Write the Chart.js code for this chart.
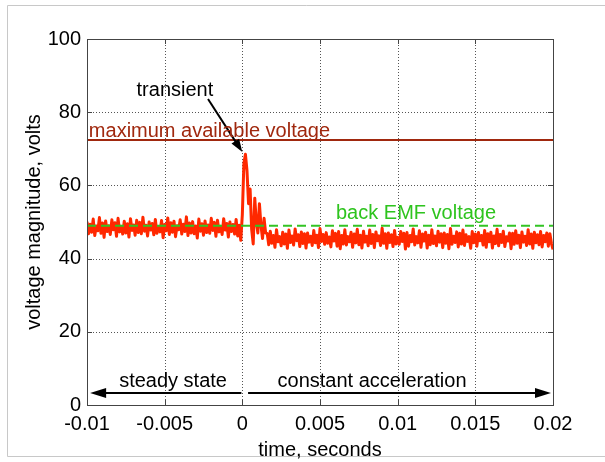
<!DOCTYPE html>
<html>
<head>
<meta charset="utf-8">
<script src="https://cdn.jsdelivr.net/npm/chart.js@4"></script>
<style>
  html, body { margin: 0; padding: 0; background: #fff; }
  #wrap { width: 605px; height: 462px; }
</style>
</head>
<body>
<div id="wrap"><canvas id="voltChart" width="605" height="462"></canvas></div>
<script>
// sampled motor voltage, one value every 0.1 ms starting at -0.01 s
const startTime = -0.01;
const sampleStep = 0.0001;
const voltage = [
  50.1, 46.8, 49.4, 47.2, 50.8, 46.3, 48.9, 47.6, 51.2, 46.9,
  49.7, 45.8, 50.3, 47.4, 49.0, 46.6, 50.6, 47.9, 49.8, 46.1,
  51.0, 47.3, 48.8, 46.7, 50.2, 47.0, 49.5, 45.9, 50.9, 47.7,
  49.2, 46.4, 50.5, 47.1, 49.9, 46.8, 51.3, 47.5, 49.1, 46.2,
  50.0, 47.8, 49.6, 46.5, 50.7, 46.9, 48.7, 47.3, 50.4, 45.7,
  49.3, 47.6, 51.1, 46.6, 49.8, 47.2, 50.2, 46.0, 49.0, 47.9,
  50.6, 46.7, 49.4, 47.4, 51.4, 46.3, 49.7, 47.0, 50.1, 46.8,
  48.9, 45.6, 50.8, 47.5, 49.5, 46.4, 50.3, 47.1, 49.2, 46.9,
  51.0, 47.7, 49.9, 46.1, 50.5, 47.3, 48.8, 46.6, 50.9, 47.8,
  49.6, 45.9, 50.0, 47.4, 49.3, 46.7, 50.7, 46.2, 49.1,
  // transient around t = 0
  45.0, 52.0, 66.0, 68.5, 64.0, 55.0, 59.0, 48.0, 44.0, 56.5,
  50.0, 47.0, 55.0, 49.0, 45.5, 51.0, 47.0,
  // constant acceleration
  46.9, 43.8, 47.5, 44.2, 46.3, 43.1, 47.9, 44.6, 46.0, 43.5,
  47.2, 44.0, 46.7, 42.8, 47.8, 44.4, 46.2, 43.7, 48.1, 44.9,
  46.5, 43.3, 47.3, 44.1, 46.8, 42.9, 47.0, 44.5, 46.1, 43.6,
  47.7, 44.3, 46.4, 43.0, 48.2, 44.7, 46.6, 43.9, 47.1, 44.2,
  45.9, 43.2, 47.6, 44.8, 46.9, 43.4, 47.4, 42.7, 46.3, 44.0,
  47.9, 43.7, 46.0, 44.6, 47.2, 43.1, 46.7, 44.3, 48.0, 43.8,
  46.4, 42.9, 47.5, 44.5, 46.1, 43.5, 47.8, 44.1, 46.6, 43.0,
  47.3, 44.9, 46.2, 43.6, 48.3, 44.2, 46.8, 42.8, 47.0, 44.4,
  46.5, 43.3, 47.7, 44.0, 45.8, 43.9, 47.4, 44.7, 46.9, 42.6,
  47.1, 43.4, 46.3, 44.6, 48.1, 43.7, 46.0, 44.3, 47.6, 43.1,
  46.7, 44.8, 47.2, 42.9, 46.4, 43.8, 47.9, 44.1, 46.2, 43.5,
  47.5, 44.5, 46.8, 43.0, 47.0, 44.2, 46.6, 42.7, 48.2, 43.9,
  46.1, 44.4, 47.3, 43.2, 46.9, 44.0, 47.8, 43.6, 46.5, 44.7,
  46.0, 42.8, 47.4, 44.3, 46.7, 43.4, 47.1, 44.9, 46.3, 43.7,
  47.7, 43.1, 46.8, 44.6, 47.2, 42.9, 46.2, 44.1, 48.0, 43.5,
  46.6, 44.4, 47.5, 43.3, 46.0, 44.8, 47.0, 42.7, 46.9, 43.9,
  47.6, 44.2, 46.4, 43.0, 47.3, 44.5, 46.1, 43.6, 47.9, 44.0,
  46.7, 42.8, 47.2, 44.3, 46.5, 43.8, 47.4, 43.2, 46.3, 44.6,
  47.0, 43.4, 46.8, 44.1, 42.5
];

const maxAvailableVoltage = 72.4;
const backEmfVoltage = 49;

const xTickValues = [-0.01, -0.005, 0, 0.005, 0.01, 0.015, 0.02];
const xTickLabels = ['-0.01', '-0.005', '0', '0.005', '0.01', '0.015', '0.02'];
const yTickValues = [0, 20, 40, 60, 80, 100];
const yTickLabels = ['0', '20', '40', '60', '80', '100'];

const xMin = -0.01, xMax = 0.02;
const FONT = "'Liberation Sans', Arial, sans-serif";

const voltagePoints = voltage.map((v, i) => ({ x: startTime + i * sampleStep, y: v }));

function flat(y) {
  return [{ x: xMin, y: y }, { x: xMax, y: y }];
}

function arrow(ctx, x1, y1, x2, y2, len, half) {
  const a = Math.atan2(y2 - y1, x2 - x1);
  ctx.beginPath();
  ctx.moveTo(x1, y1);
  ctx.lineTo(x2 - Math.cos(a) * len * 0.8, y2 - Math.sin(a) * len * 0.8);
  ctx.stroke();
  ctx.beginPath();
  ctx.moveTo(x2, y2);
  ctx.lineTo(x2 - Math.cos(a) * len - Math.sin(a) * half, y2 - Math.sin(a) * len + Math.cos(a) * half);
  ctx.lineTo(x2 - Math.cos(a) * len + Math.sin(a) * half, y2 - Math.sin(a) * len - Math.cos(a) * half);
  ctx.closePath();
  ctx.fill();
}

// white page, light grey figure frame and dotted grid behind the data
const framePlugin = {
  id: 'frame',
  beforeDraw(chart) {
    const ctx = chart.ctx;
    ctx.save();
    ctx.fillStyle = '#fff';
    ctx.fillRect(0, 0, chart.width, chart.height);
    ctx.strokeStyle = '#c8c8c8';
    ctx.lineWidth = 1;
    ctx.beginPath();
    ctx.moveTo(605, 5.5);
    ctx.lineTo(7.5, 5.5);
    ctx.lineTo(7.5, 456.5);
    ctx.lineTo(605, 456.5);
    ctx.stroke();
    ctx.restore();
  },
  beforeDatasetsDraw(chart) {
    const ctx = chart.ctx;
    const xs = chart.scales.x, ys = chart.scales.y;
    const a = chart.chartArea;
    ctx.save();
    ctx.strokeStyle = '#555';
    ctx.lineWidth = 1;
    ctx.setLineDash([1, 2]);
    ctx.beginPath();
    xTickValues.slice(1, -1).forEach(v => {
      const x = Math.round(xs.getPixelForValue(v)) + 0.5;
      ctx.moveTo(x, a.top); ctx.lineTo(x, a.bottom);
    });
    yTickValues.slice(1, -1).forEach(v => {
      const y = Math.round(ys.getPixelForValue(v)) + 0.5;
      ctx.moveTo(a.left, y); ctx.lineTo(a.right, y);
    });
    ctx.stroke();
    ctx.restore();
  }
};

// axes box, inward tick marks and the text annotations
const notesPlugin = {
  id: 'notes',
  afterDatasetsDraw(chart) {
    const ctx = chart.ctx;
    const xs = chart.scales.x, ys = chart.scales.y;
    const a = chart.chartArea;
    const px = v => xs.getPixelForValue(v);
    const py = v => ys.getPixelForValue(v);
    ctx.save();

    ctx.strokeStyle = '#444';
    ctx.lineWidth = 1;
    ctx.strokeRect(Math.round(a.left) + 0.5, Math.round(a.top) + 0.5,
      Math.round(a.right - a.left), Math.round(a.bottom - a.top));
    ctx.beginPath();
    xTickValues.forEach(v => {
      const x = Math.round(px(v)) + 0.5;
      ctx.moveTo(x, a.bottom); ctx.lineTo(x, a.bottom - 5);
      ctx.moveTo(x, a.top); ctx.lineTo(x, a.top + 5);
    });
    yTickValues.forEach(v => {
      const y = Math.round(py(v)) + 0.5;
      ctx.moveTo(a.left, y); ctx.lineTo(a.left + 5, y);
      ctx.moveTo(a.right, y); ctx.lineTo(a.right - 5, y);
    });
    ctx.stroke();

    ctx.font = '20px ' + FONT;
    ctx.textBaseline = 'middle';

    ctx.fillStyle = '#000';
    ctx.textAlign = 'center';
    ctx.fillText('transient', px(-0.00434), py(86.0));
    ctx.strokeStyle = '#000';
    ctx.lineWidth = 2;
    arrow(ctx, px(-0.00221), py(83.6), px(0.0), py(69.1), 13, 4.5);

    ctx.fillStyle = '#a0280e';
    ctx.textAlign = 'left';
    ctx.fillText('maximum available voltage', px(-0.00988), py(74.6));

    ctx.fillStyle = '#2ec41e';
    ctx.fillText('back EMF voltage', px(0.00603), py(52.4));

    ctx.fillStyle = '#000';
    ctx.textAlign = 'center';
    ctx.fillText('steady state', px(-0.00446), py(6.4));
    ctx.fillText('constant acceleration', px(0.00835), py(6.4));

    ctx.lineWidth = 2;
    arrow(ctx, px(-0.00006), py(3.3), px(-0.0098), py(3.3), 16, 5);
    arrow(ctx, px(0.00037), py(3.3), px(0.01987), py(3.3), 16, 5);

    ctx.restore();
  }
};

new Chart(document.getElementById('voltChart'), {
  type: 'line',
  data: {
    datasets: [
      {
        label: 'back EMF voltage',
        data: flat(backEmfVoltage),
        borderColor: '#33c424',
        borderWidth: 2,
        borderDash: [9, 5],
        pointRadius: 0
      },
      {
        label: 'maximum available voltage',
        data: flat(maxAvailableVoltage),
        borderColor: '#a0280e',
        borderWidth: 2,
        pointRadius: 0
      },
      {
        label: 'voltage',
        data: voltagePoints,
        borderColor: '#ff2800',
        borderWidth: 3,
        borderJoinStyle: 'round',
        pointRadius: 0,
        tension: 0
      }
    ]
  },
  options: {
    responsive: false,
    animation: false,
    devicePixelRatio: 1,
    layout: { padding: { left: 18, top: 39, right: 52, bottom: 0 } },
    plugins: {
      legend: { display: false },
      tooltip: { enabled: false }
    },
    scales: {
      x: {
        type: 'linear',
        min: xMin,
        max: xMax,
        afterBuildTicks: scale => { scale.ticks = xTickValues.map(v => ({ value: v })); },
        afterFit: scale => { scale.height = 57; },
        ticks: {
          color: '#000',
          font: { family: FONT, size: 20 },
          padding: 7,
          maxRotation: 0,
          autoSkip: false,
          callback: (value, index) => xTickLabels[index]
        },
        grid: { display: false, drawTicks: false },
        border: { display: false },
        title: {
          display: true,
          text: 'time, seconds',
          color: '#000',
          font: { family: FONT, size: 20 },
          padding: { top: 0, bottom: 0 }
        }
      },
      y: {
        type: 'linear',
        min: 0,
        max: 100,
        afterBuildTicks: scale => { scale.ticks = yTickValues.map(v => ({ value: v })); },
        afterFit: scale => { scale.width = 69; },
        ticks: {
          color: '#000',
          font: { family: FONT, size: 20 },
          padding: 6,
          autoSkip: false,
          callback: (value, index) => yTickLabels[index]
        },
        grid: { display: false, drawTicks: false },
        border: { display: false },
        title: {
          display: true,
          text: 'voltage magnitude, volts',
          color: '#000',
          font: { family: FONT, size: 20 },
          padding: { top: 4, bottom: 0 }
        }
      }
    }
  },
  plugins: [framePlugin, notesPlugin]
});
</script>
</body>
</html>
